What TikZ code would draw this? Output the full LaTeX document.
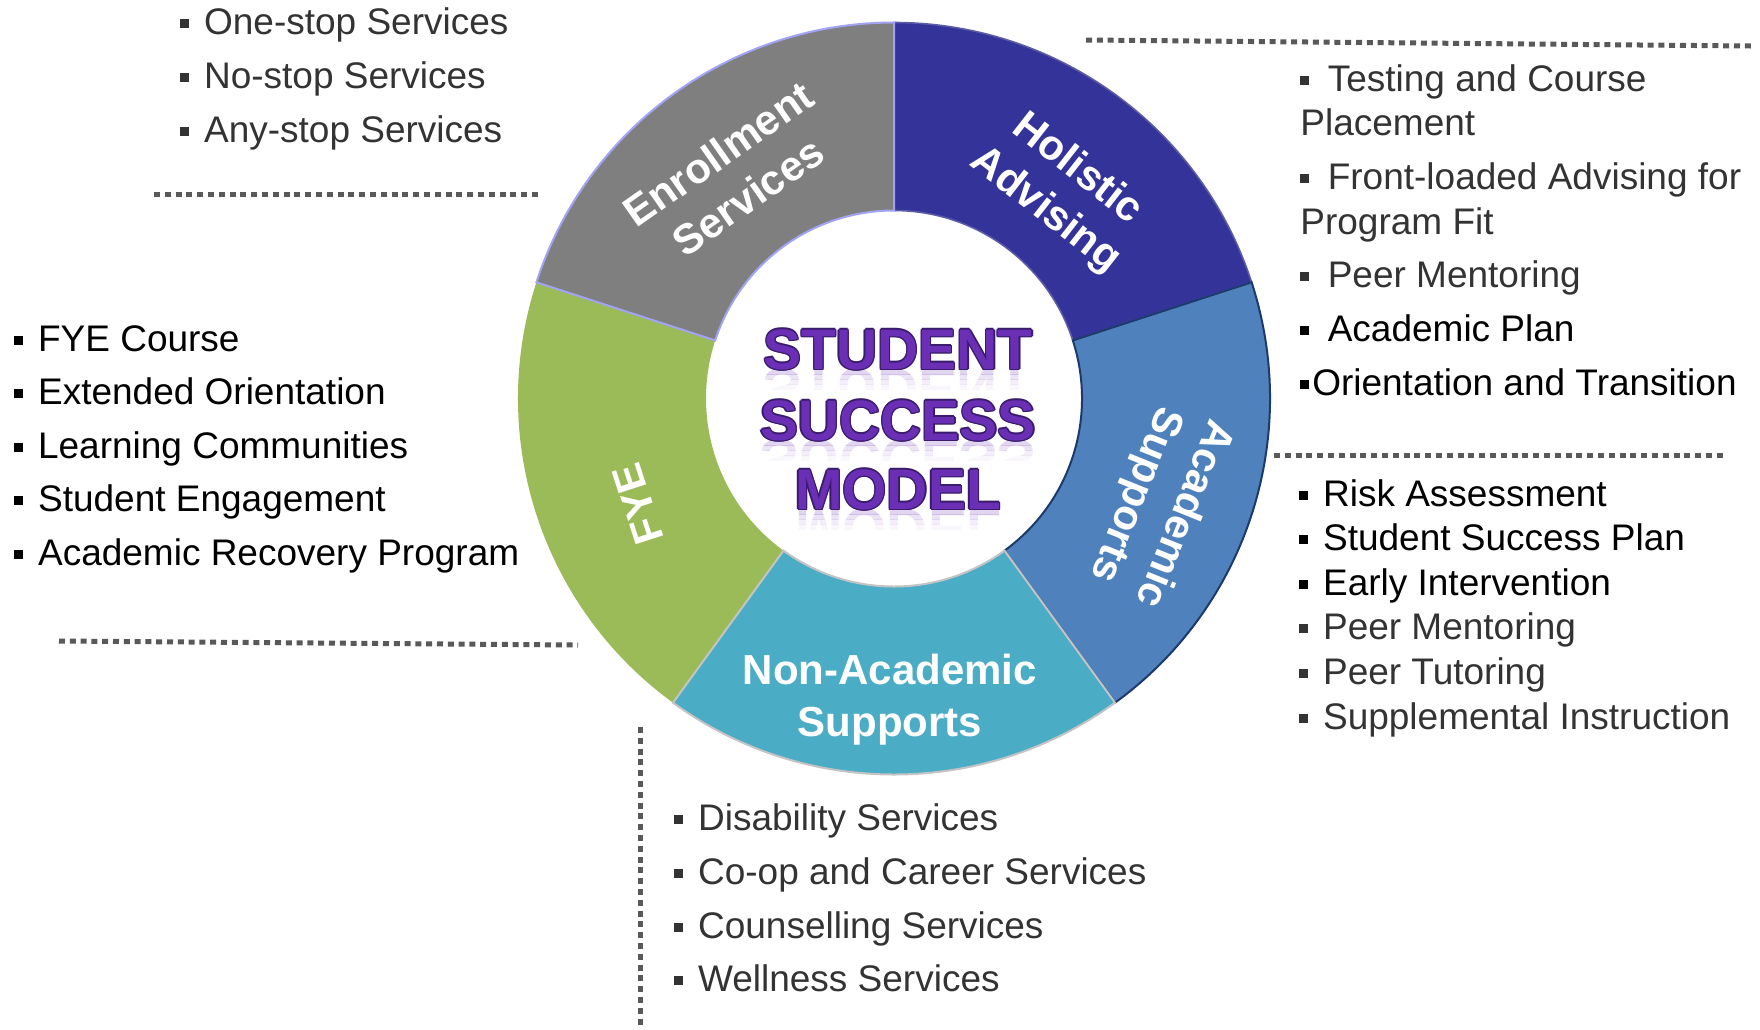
\documentclass[tikz,border=0pt]{standalone}
\usepackage{fontspec}
\setmainfont{Liberation Sans}
\usetikzlibrary{calc}

\definecolor{enrolfill}{HTML}{7F7F7F}
\definecolor{enroledge}{HTML}{A3A3F5}
\definecolor{holistfill}{HTML}{333399}
\definecolor{holistedge}{HTML}{5B5BA6}
\definecolor{acadfill}{HTML}{4F81BD}
\definecolor{acadedge}{HTML}{1C3A6B}
\definecolor{nonacadfill}{HTML}{4BACC6}
\definecolor{nonacadedge}{HTML}{C4C4C4}
\definecolor{fyefill}{HTML}{9BBB59}
\definecolor{txtgray}{HTML}{333333}
\definecolor{dotgray}{HTML}{595959}
\definecolor{modelpurple}{HTML}{6A2FB4}
\definecolor{modeledge}{HTML}{3A1C6C}

% small square bullet followed by a gap
\newcommand\sqb{\rule[0.17em]{0.24em}{0.24em}\hspace{0.4em}}
\newcommand\sqbt{\rule[0.17em]{0.24em}{0.24em}\hspace{0.08em}}

% one ring segment between two angles
\newcommand\ringseg[3]{%
  \path[#1] (#2:376) arc[start angle=#2, end angle=#3, radius=376]
    -- (#3:188) arc[start angle=#3, end angle=#2, radius=188] -- cycle;}

\tikzset{
  listitem/.style={anchor=base west, inner sep=0pt,
    font=\fontsize{18.5pt}{22pt}\selectfont, text=txtgray},
  blackitem/.style={listitem, text=black},
  seglabel/.style={text=white, font=\bfseries\fontsize{21pt}{26pt}\selectfont,
    align=center, inner sep=0pt},
  divider/.style={dotgray, line width=2.5pt, dash pattern=on 3pt off 2.4pt},
  modelword/.style={anchor=base, inner sep=0pt,
    font=\bfseries\fontsize{28.5pt}{34pt}\selectfont},
}

\begin{document}
\begin{tikzpicture}[x=0.5pt,y=0.5pt]
\useasboundingbox (0,0) rectangle (1760,-1029);
\fill[white] (0,0) rectangle (1760,-1029);

% ---- the ring ----
\begin{scope}[shift={(894,-398.5)}]
  \ringseg{fill=fyefill}{162}{234}
  \ringseg{fill=holistfill, draw=holistedge, line width=0.8pt}{18}{90}
  \ringseg{fill=acadfill, draw=acadedge, line width=1pt}{-54}{18}
  \ringseg{fill=nonacadfill, draw=nonacadedge, line width=1pt}{234}{306}
  \ringseg{fill=enrolfill, draw=enroledge, line width=1pt}{90}{162}
\end{scope}

% ---- segment labels ----
\node[seglabel, rotate=35]  (enrol)   at (733,-175) {Enrollment\\Services};
\node[seglabel, rotate=-38] (holist)  at (1061,-190) {Holistic\\Advising};
\node[seglabel, rotate=-112] (acad)   at (1159,-504) {Academic\\Supports};
\node[seglabel, rotate=108] (fye)     at (638,-504) {FYE};
\node[seglabel]             (nonacad) at (890,-700) {Non-Academic\\Supports};

% ---- centre title: fading reflection, dark outline, purple face ----
\foreach \w/\yy/\nm in {STUDENT/369/a, SUCCESS/440/b, MODEL/509/c}{
  \foreach \top/\bot/\op [count=\k] in {0/5/0.20, 5/10/0.13, 10/15/0.08, 15/20/0.04}{
    \begin{scope}
      \clip (700,-\yy-\top) rectangle (1100,-\yy-\bot);
      \node[modelword, yscale=-1, text=modelpurple, text opacity=\op]
        (refl-\nm-\k) at (898,-\yy) {\w};
    \end{scope}
  }
  \foreach \dx/\dy [count=\i] in {1.4/0,-1.4/0,0/1.4,0/-1.4,1/1,1/-1,-1/1,-1/-1}{
    \node[modelword, text=modeledge] (edge-\nm-\i) at (898+\dx,-\yy+\dy) {\w};
  }
  \node[modelword, text=modelpurple] (title-\nm) at (898,-\yy) {\w};
}

% ---- dotted separators ----
\coordinate (d1a) at (154,-194);  \coordinate (d1b) at (540,-194);
\coordinate (d2a) at (59,-641);   \coordinate (d2b) at (578,-645);
\coordinate (d3a) at (1086,-40);  \coordinate (d3b) at (1751,-46);
\coordinate (d4a) at (1274,-455); \coordinate (d4b) at (1725,-455);
\coordinate (d5a) at (640,-727);  \coordinate (d5b) at (640,-1029);
\draw[divider] (d1a) -- (d1b);
\draw[divider] (d2a) -- (d2b);
\draw[divider] (d3a) -- (d3b);
\draw[divider] (d4a) -- (d4b);
\draw[divider] (d5a) -- (d5b);

% ---- Enrollment services list ----
\node[listitem] (e1) at (180,-34)  {\sqb One-stop Services};
\node[listitem] (e2) at (180,-88)  {\sqb No-stop Services};
\node[listitem] (e3) at (180,-142) {\sqb Any-stop Services};

% ---- FYE list ----
\node[blackitem] (f1) at (14,-351) {\sqb FYE Course};
\node[blackitem] (f2) at (14,-404) {\sqb Extended Orientation};
\node[blackitem] (f3) at (14,-458) {\sqb Learning Communities};
\node[blackitem] (f4) at (14,-511) {\sqb Student Engagement};
\node[blackitem] (f5) at (14,-565) {\sqb Academic Recovery Program};

% ---- Holistic advising list ----
\node[listitem] (h1) at (1300,-91)  {\sqb\hspace{0.1em}Testing and Course};
\node[listitem] (h1b) at (1300,-135) {Placement};
\node[listitem] (h2) at (1300,-189) {\sqb\hspace{0.1em}Front-loaded Advising for};
\node[listitem] (h2b) at (1300,-234) {Program Fit};
\node[listitem] (h3) at (1300,-287) {\sqb\hspace{0.1em}Peer Mentoring};
\node[blackitem] (h4) at (1300,-341) {\sqb\hspace{0.1em}Academic Plan};
\node[blackitem] (h5) at (1300,-395) {\sqbt Orientation and Transition};

% ---- Academic supports list ----
\node[blackitem] (a1) at (1299,-506) {\sqb Risk Assessment};
\node[blackitem] (a2) at (1299,-550) {\sqb Student Success Plan};
\node[blackitem] (a3) at (1299,-595) {\sqb Early Intervention};
\node[listitem]  (a4) at (1299,-639) {\sqb Peer Mentoring};
\node[listitem]  (a5) at (1299,-684) {\sqb Peer Tutoring};
\node[listitem]  (a6) at (1299,-729) {\sqb Supplemental Instruction};

% ---- Non-academic supports list ----
\node[listitem] (n1) at (674,-830) {\sqb Disability Services};
\node[listitem] (n2) at (674,-884) {\sqb Co-op and Career Services};
\node[listitem] (n3) at (674,-938) {\sqb Counselling Services};
\node[listitem] (n4) at (674,-991) {\sqb Wellness Services};
\end{tikzpicture}
\end{document}
